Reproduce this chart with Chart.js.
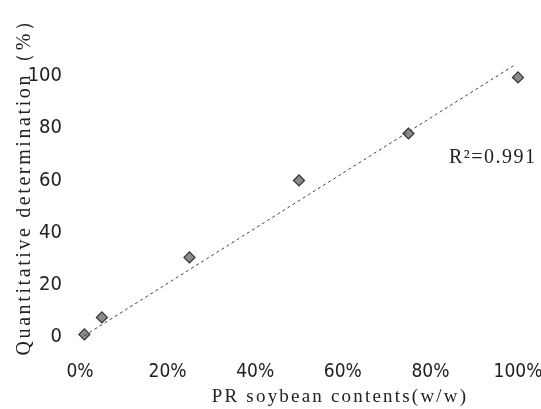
<!DOCTYPE html>
<html>
<head>
<meta charset="utf-8">
<script src="https://cdn.jsdelivr.net/npm/chart.js@4"></script>
<style>
  html, body { margin: 0; padding: 0; background: #fff; }
  #wrap { width: 541px; height: 409px; }
</style>
</head>
<body>
<div id="wrap"><canvas id="calibChart" width="541" height="409"></canvas></div>
<script>
// PR soybean content (w/w, %) vs quantitative determination (%)
const contents = [1, 5, 25, 50, 75, 100];
const measured = [1, 7.5, 30.5, 60, 78, 99.5];
// dotted trend line as it appears on the figure
const trendX = [1, 99];
const trendY = [0.5, 104];
const yTicks = [0, 20, 40, 60, 80, 100];
const xTicks = [0, 20, 40, 60, 80, 100];
const r2Label = "R\u00b2=0.991";

const serif = "'Liberation Serif', 'DejaVu Serif', serif";
const narrow = "'Liberation Sans Narrow', 'DejaVu Sans Condensed', sans-serif";

// axis titles + R² text drawn by hand so they can sit where the scan has them
const textPlugin = {
  id: "texts",
  afterDraw(chart) {
    const ctx = chart.ctx;
    ctx.save();
    ctx.fillStyle = "#222";
    ctx.font = "19px " + serif;
    ctx.textBaseline = "middle";

    ctx.letterSpacing = "2.2px";
    ctx.textAlign = "center";
    ctx.fillText("PR soybean contents(w/w)", 340, 397);

    ctx.save();
    ctx.translate(25, 182);
    ctx.rotate(-Math.PI / 2);
    ctx.font = "20px " + serif;
    ctx.letterSpacing = "2.6px";
    ctx.fillText("Quantitative determination\uff08%\uff09", 0, 0);
    ctx.restore();

    ctx.font = "20px " + serif;
    ctx.letterSpacing = "1.5px";
    ctx.textAlign = "left";
    ctx.fillText(r2Label, 449, 158);
    ctx.restore();
  },
};

new Chart(document.getElementById("calibChart"), {
  type: "scatter",
  data: {
    datasets: [
      {
        label: "trend",
        type: "line",
        data: trendX.map((x, i) => ({ x: x, y: trendY[i] })),
        borderColor: "#444",
        borderWidth: 1,
        borderDash: [3, 3],
        pointRadius: 0,
        fill: false,
      },
      {
        label: "measured",
        data: contents.map((x, i) => ({ x: x, y: measured[i] })),
        pointStyle: "rectRot",
        pointRadius: 5.5,
        backgroundColor: "#8a8a8a",
        borderColor: "#333",
        borderWidth: 1.2,
      },
    ],
  },
  options: {
    responsive: false,
    animation: false,
    clip: false,
    layout: { padding: { left: 0, right: 0, top: 50, bottom: 0 } },
    plugins: {
      legend: { display: false },
      tooltip: { enabled: false },
    },
    scales: {
      x: {
        type: "linear",
        min: 0,
        max: 100,
        border: { display: false },
        grid: { display: false, drawTicks: false },
        afterBuildTicks: (scale) => {
          scale.ticks = xTicks.map((v) => ({ value: v }));
        },
        afterFit: (scale) => {
          scale.height = 72;
          scale.paddingLeft = 0;
          scale.paddingRight = 23;
        },
        ticks: {
          padding: 24,
          color: "#222",
          font: { family: narrow, size: 19 },
          callback: (v) => v + "%",
        },
      },
      y: {
        type: "linear",
        min: 0,
        max: 110,
        border: { display: false },
        grid: { display: false, drawTicks: false },
        afterBuildTicks: (scale) => {
          scale.ticks = yTicks.map((v) => ({ value: v }));
        },
        afterFit: (scale) => {
          scale.width = 80;
        },
        ticks: {
          padding: 18,
          color: "#222",
          font: { family: narrow, size: 20 },
        },
      },
    },
  },
  plugins: [textPlugin],
});
</script>
</body>
</html>
